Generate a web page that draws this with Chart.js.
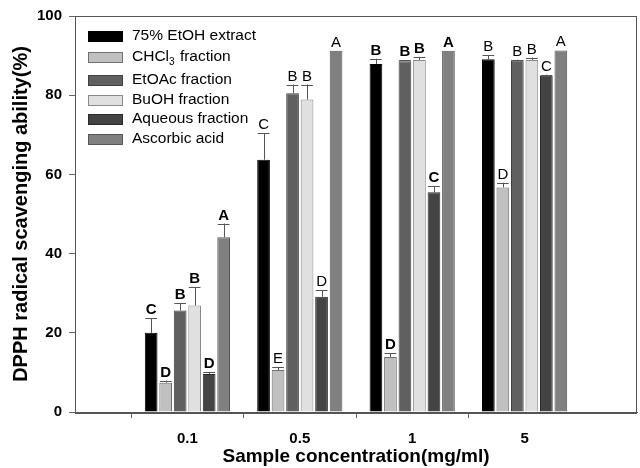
<!DOCTYPE html>
<html>
<head>
<meta charset="utf-8">
<script src="https://cdn.jsdelivr.net/npm/chart.js@4/dist/chart.umd.min.js"></script>
<style>
  html, body { margin: 0; padding: 0; background: #fff; }
  #wrap { width: 640px; height: 468px; }
</style>
</head>
<body>
<div id="wrap"><canvas id="myChart"></canvas></div>
<script>
// data
var concLabels = ['', '0.1', '0.5', '1', '5', ''];

var ethanolVals  = [null, 20.0, 63.7, 87.9, 89.1, null];
var chclVals     = [null, 7.4, 10.6, 13.9, 56.7, null];
var etoacVals    = [null, 25.6, 80.5, 88.6, 88.8, null];
var buohVals     = [null, 26.9, 78.9, 88.9, 88.9, null];
var aqueousVals  = [null, 9.6, 29.1, 55.5, 84.9, null];
var ascorbicVals = [null, 44.1, 91.2, 91.2, 91.3, null];

var ethanolErr  = [0, 3.7, 6.7, 1.3, 1.0, 0];
var chclErr     = [0, 0.5, 0.7, 0.9, 1.2, 0];
var etoacErr    = [0, 1.8, 2.2, 0.3, 0.2, 0];
var buohErr     = [0, 4.6, 3.8, 0.8, 0.6, 0];
var aqueousErr  = [0, 0.4, 1.7, 1.6, 0.3, 0];
var ascorbicErr = [0, 3.5, 0, 0, 0, 0];

// significance letters per group (same order as datasets)
var groupLetters = [null, ['C','D','B','B','D','A'], ['C','E','B','B','D','A'], ['B','D','B','B','C','A'], ['B','D','B','B','C','A'], null];
var groupBold = [false, true, false, true, false, false];

var yTicks = [0, 20, 40, 60, 80, 100];

var seriesNames = ['75% EtOH extract', 'CHCl3 fraction', 'EtOAc fraction', 'BuOH fraction', 'Aqueous fraction', 'Ascorbic acid'];
var seriesVals = [ethanolVals, chclVals, etoacVals, buohVals, aqueousVals, ascorbicVals];
var seriesErr = [ethanolErr, chclErr, etoacErr, buohErr, aqueousErr, ascorbicErr];
var fills = ['#000000', '#c0c0c0', '#606060', '#e0e0e0', '#444444', '#808080'];
var borders = ['#000000', '#707070', '#404040', '#8a8a8a', '#2a2a2a', '#555555'];

var FONT = '"Liberation Sans", Arial, sans-serif';

var datasets = [];
for (var i = 0; i < seriesNames.length; i++) {
    datasets.push({
        label: seriesNames[i],
        data: seriesVals[i],
        errs: seriesErr[i],
        backgroundColor: fills[i],
        borderColor: borders[i],
        borderWidth: 1,
        categoryPercentage: 0.774,
        barPercentage: 0.876
    });
}

// error bars + letters
var errPlugin = {
    id: 'errPlugin',
    afterDatasetsDraw: function (chart) {
        var ctx = chart.ctx;
        var y = chart.scales.y;
        ctx.save();
        chart.data.datasets.forEach(function (ds, di) {
            var meta = chart.getDatasetMeta(di);
            meta.data.forEach(function (bar, j) {
                var v = ds.data[j];
                if (v === null) return;
                var e = ds.errs[j];
                var yt = y.getPixelForValue(v + e);
                var yb = y.getPixelForValue(v);
                if (e > 0) {
                    ctx.strokeStyle = '#555';
                    ctx.lineWidth = 1;
                    ctx.beginPath();
                    ctx.moveTo(Math.round(bar.x) + 0.5, yb);
                    ctx.lineTo(Math.round(bar.x) + 0.5, yt);
                    ctx.moveTo(bar.x - bar.width / 2 + 0.5, Math.round(yt) + 0.5);
                    ctx.lineTo(bar.x + bar.width / 2 - 0.5, Math.round(yt) + 0.5);
                    ctx.stroke();
                }
                ctx.fillStyle = '#000';
                ctx.font = (groupBold[j] ? 'bold ' : '') + '15px ' + FONT;
                ctx.textAlign = 'center';
                ctx.textBaseline = 'alphabetic';
                ctx.fillText(groupLetters[j][di], bar.x, yt - 4);
            });
        });
        ctx.restore();
    }
};

// frame + legend inside the plot area
var framePlugin = {
    id: 'framePlugin',
    afterDraw: function (chart) {
        var ctx = chart.ctx;
        var a = chart.chartArea;
        ctx.save();
        ctx.strokeStyle = '#555';
        ctx.lineWidth = 1;
        ctx.strokeRect(Math.round(a.left) + 0.5, Math.round(a.top) + 0.5, Math.round(a.right - a.left) - 1, Math.round(a.bottom - a.top));
        // bottom axis a bit heavier
        ctx.beginPath();
        ctx.moveTo(a.left, Math.round(a.bottom) + 1.5);
        ctx.lineTo(a.right, Math.round(a.bottom) + 1.5);
        ctx.stroke();

        var rows = [36, 57, 80, 100, 119, 139];
        chart.data.datasets.forEach(function (ds, i) {
            var cy = rows[i];
            ctx.fillStyle = ds.backgroundColor;
            ctx.fillRect(88, cy - 5, 35, 11);
            ctx.strokeStyle = ds.borderColor;
            ctx.strokeRect(88.5, cy - 4.5, 34, 10);
            ctx.fillStyle = '#000';
            ctx.textAlign = 'left';
            ctx.textBaseline = 'middle';
            ctx.font = '15.5px ' + FONT;
            var lbl = ds.label;
            if (lbl.indexOf('CHCl3') === 0) {
                var x = 132;
                ctx.fillText('CHCl', x, cy);
                x += ctx.measureText('CHCl').width;
                ctx.font = '10px ' + FONT;
                ctx.fillText('3', x, cy + 5);
                x += ctx.measureText('3').width + 1;
                ctx.font = '15.5px ' + FONT;
                ctx.fillText(lbl.slice(5), x, cy);
            } else {
                ctx.fillText(lbl, 132, cy);
            }
        });
        ctx.restore();
    }
};

var ctx = document.getElementById('myChart').getContext('2d');
var chart = new Chart(ctx, {
    type: 'bar',
    data: {
        labels: concLabels,
        datasets: datasets
    },
    options: {
        responsive: true,
        maintainAspectRatio: false,
        animation: false,
        layout: { padding: { top: 16, right: 3, left: 0, bottom: 0 } },
        plugins: {
            legend: { display: false },
            tooltip: { enabled: false }
        },
        scales: {
            x: {
                offset: false,
                grid: {
                    drawOnChartArea: false,
                    drawTicks: true,
                    tickLength: 6,
                    color: function (c) {
                        return (c.tick && c.tick.label === '') ? 'rgba(0,0,0,0)' : '#666';
                    }
                },
                border: { color: '#555' },
                ticks: {
                    color: '#000',
                    font: { family: FONT, size: 15, weight: 'bold' },
                    padding: 12,
                    maxRotation: 0,
                    autoSkip: false
                },
                title: {
                    display: true,
                    text: 'Sample concentration(mg/ml)',
                    color: '#000',
                    font: { family: FONT, size: 19, weight: 'bold' },
                    padding: { top: 0, bottom: 0 }
                },
                afterFit: function (s) {
                    s.height = 56;
                    s.paddingLeft = 0;
                    s.paddingRight = 0;
                }
            },
            y: {
                min: 0,
                max: 100,
                afterBuildTicks: function (s) {
                    s.ticks = yTicks.map(function (v) { return { value: v }; });
                },
                grid: {
                    drawOnChartArea: false,
                    drawTicks: true,
                    tickLength: 6,
                    color: '#666'
                },
                border: { color: '#555' },
                ticks: {
                    color: '#000',
                    font: { family: FONT, size: 15, weight: 'bold' },
                    padding: 7
                },
                title: {
                    display: true,
                    text: 'DPPH radical scavenging ability(%)',
                    color: '#000',
                    font: { family: FONT, size: 20, weight: 'bold' },
                    padding: { top: 9, bottom: 0 }
                },
                afterFit: function (s) { s.width = 75; }
            }
        }
    },
    plugins: [errPlugin, framePlugin]
});
</script>
</body>
</html>
